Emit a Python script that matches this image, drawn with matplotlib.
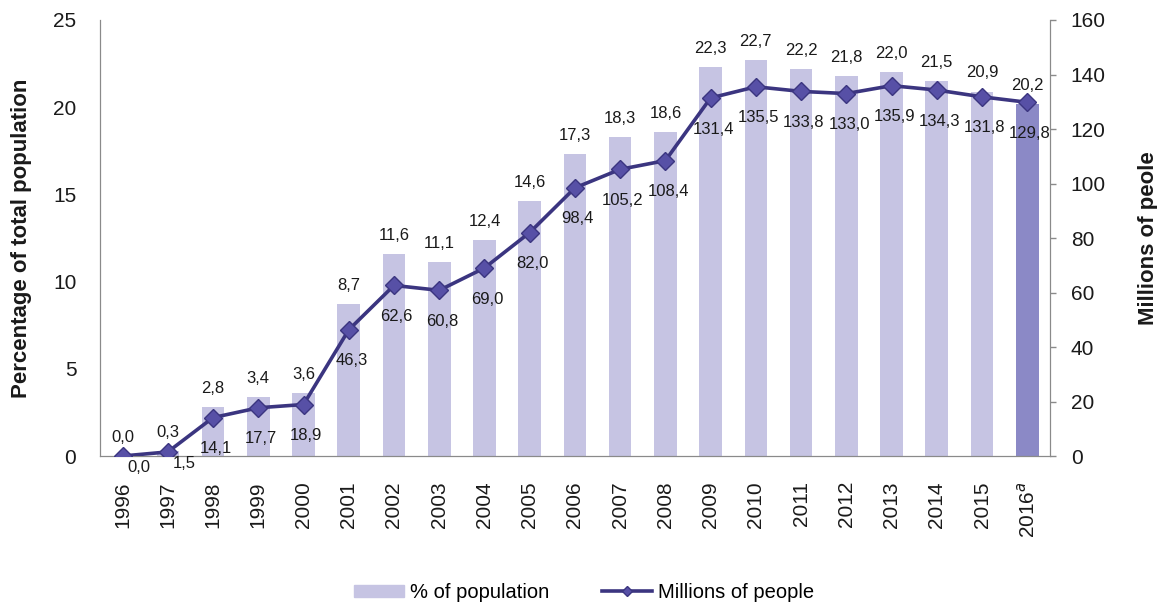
import numpy as np
import matplotlib.pyplot as plt

plt.rcParams['font.family'] = ['Liberation Sans', 'DejaVu Sans']

# Datos
years = ['1996', '1997', '1998', '1999', '2000', '2001', '2002', '2003', '2004', '2005', '2006',
         '2007', '2008', '2009', '2010', '2011', '2012', '2013', '2014', '2015', '2016$^{a}$']
pct_population = [0.0, 0.3, 2.8, 3.4, 3.6, 8.7, 11.6, 11.1, 12.4, 14.6, 17.3,
                  18.3, 18.6, 22.3, 22.7, 22.2, 21.8, 22.0, 21.5, 20.9, 20.2]
millions_people = [0.0, 1.5, 14.1, 17.7, 18.9, 46.3, 62.6, 60.8, 69.0, 82.0, 98.4,
                   105.2, 108.4, 131.4, 135.5, 133.8, 133.0, 135.9, 134.3, 131.8, 129.8]

bar_color = '#c6c4e3'
last_bar_color = '#8b89c6'
line_color = '#3b3580'
marker_color = '#5750a6'
spine_color = '#8a8a8a'
text_color = '#1a1a1a'

x = np.arange(len(years))

fig = plt.figure(figsize=(11.57, 6.06), dpi=100)
ax = fig.add_axes([0.0864, 0.2475, 0.821, 0.7195])
ax2 = ax.twinx()

# Barras (% de la población)
colors = [bar_color] * (len(years) - 1) + [last_bar_color]
ax.bar(x, pct_population, width=0.5, color=colors, zorder=1)

# Línea (millones de personas)
ax2.plot(x, millions_people, color=line_color, linewidth=2.6, marker='D', markersize=9,
         markerfacecolor=marker_color, markeredgecolor=line_color, markeredgewidth=1, zorder=3)

ax.set_xlim(-0.5, len(years) - 0.5)
ax.set_ylim(0, 25)
ax2.set_ylim(0, 160)
ax.set_yticks(np.arange(0, 26, 5))
ax2.set_yticks(np.arange(0, 161, 20))
ax.set_xticks(x)
ax.set_xticklabels(years, rotation=90)

ax.tick_params(axis='y', length=0, pad=17, labelsize=15, labelcolor=text_color)
ax.tick_params(axis='x', length=0, pad=18, labelsize=15, labelcolor=text_color)
ax2.tick_params(axis='y', length=4, width=1, color=spine_color, pad=11, labelsize=15,
                labelcolor=text_color)

for a in (ax, ax2):
    a.spines['top'].set_visible(False)
    for s in ('left', 'right', 'bottom'):
        a.spines[s].set_color(spine_color)

ax.set_ylabel('Percentage of total population', fontsize=16, fontweight='bold', color=text_color)
ax2.set_ylabel('Millions of peole', fontsize=16, fontweight='bold', color=text_color)
ax.yaxis.set_label_coords(-0.072, 0.5)
ax2.yaxis.set_label_coords(1.093, 0.5)

# Etiquetas de las barras
for xi, v in zip(x, pct_population):
    ax.annotate(f'{v:.1f}'.replace('.', ','), (xi, v), xytext=(0, 8), textcoords='offset points',
                ha='center', va='bottom', fontsize=12, color=text_color)

# Etiquetas de la línea
for xi, v in zip(x, millions_people):
    if v < 5:
        off = (12, -3)
    else:
        off = (2, -17)
    ax2.annotate(f'{v:.1f}'.replace('.', ','), (xi, v), xytext=off, textcoords='offset points',
                 ha='center', va='top', fontsize=12, color=text_color, zorder=4)

# Leyenda
handles = [plt.Rectangle((0, 0), 1, 1, color=bar_color),
           plt.Line2D([], [], color=line_color, linewidth=2.6, marker='D', markersize=5,
                      markerfacecolor=marker_color, markeredgecolor=line_color)]
fig.legend(handles, ['% of population', 'Millions of people'], loc='center',
           bbox_to_anchor=(0.505, 0.022), ncol=2, frameon=False, fontsize=14.5,
           handlelength=2.5, handleheight=0.6, columnspacing=2.6, handletextpad=0.3)

plt.savefig('out.png', dpi=100)
